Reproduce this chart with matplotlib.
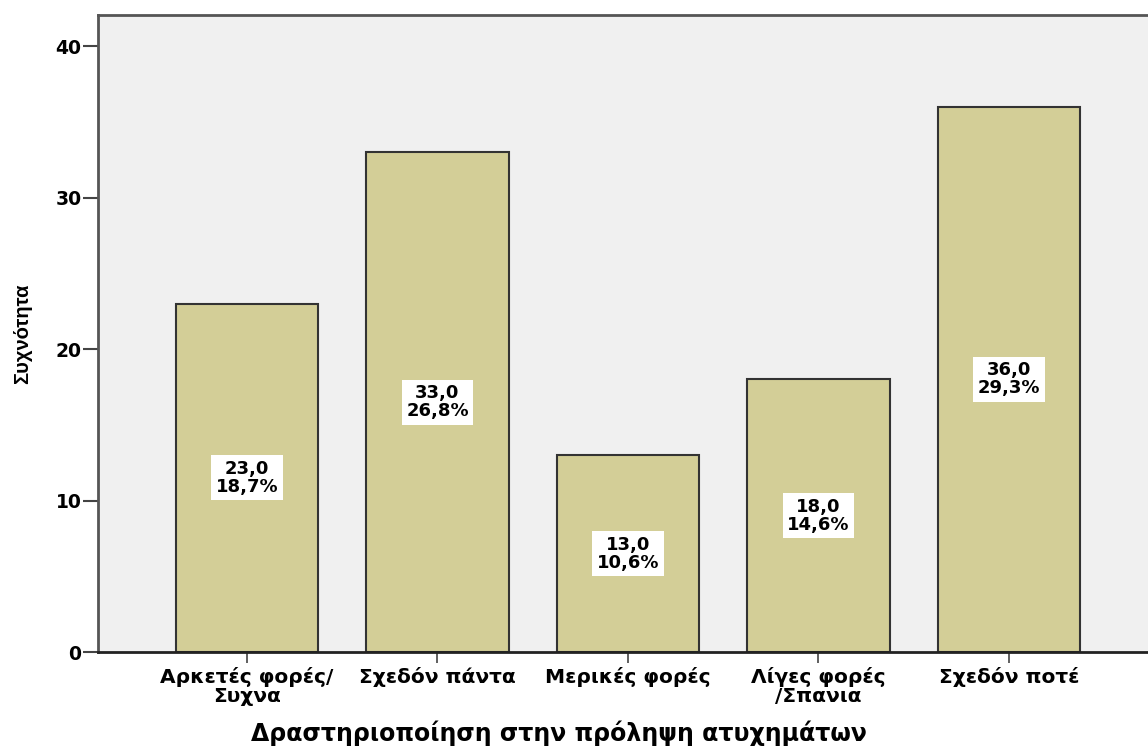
import matplotlib
matplotlib.use('Agg')
import matplotlib.pyplot as plt

plt.rcParams['font.family'] = ['DejaVu Sans']

categories = ['Αρκετές φορές/\nΣυχνα', 'Σχεδόν πάντα', 'Μερικές φορές',
              'Λίγες φορές\n/Σπανια', 'Σχεδόν ποτέ']
counts = [23, 33, 13, 18, 36]
percents = [18.7, 26.8, 10.6, 14.6, 29.3]
yticks = [0, 10, 20, 30, 40]

fig = plt.figure(figsize=(11.48, 7.47), dpi=100)
ax = fig.add_axes([98 / 1148, 1 - 652 / 747, 1 - 98 / 1148, (652 - 15) / 747])
ax.set_facecolor('#f0f0f0')

x = list(range(len(categories)))
ax.bar(x, counts, width=0.75, color='#d3ce97', edgecolor='#333333', linewidth=1.5, zorder=2)

for xi, c, p in zip(x, counts, percents):
    lbl = ('%.1f\n%.1f%%' % (c, p)).replace('.', ',')
    ax.text(xi, c / 2, lbl, ha='center', va='center', fontsize=13, fontweight='bold',
            linespacing=1.0, zorder=3,
            bbox=dict(facecolor='white', edgecolor='none', boxstyle='square,pad=0.25'))

ax.set_xlim(-0.782, 4.73)
ax.set_ylim(0, 42.05)
ax.set_xticks(x)
ax.set_xticklabels(categories, fontsize=14.5, fontweight='bold', linespacing=1.0)
ax.set_yticks(yticks)
ax.set_yticklabels([str(t) for t in yticks], fontsize=13.5, fontweight='bold')
ax.tick_params(axis='y', length=11, width=1.5, color='#444444', pad=1)
ax.tick_params(axis='x', length=8, width=1.2, color='#444444', pad=3)

for side in ['left', 'top']:
    ax.spines[side].set_color('#555555')
    ax.spines[side].set_linewidth(2)
ax.spines['bottom'].set_color('#222222')
ax.spines['bottom'].set_linewidth(2)
ax.spines['right'].set_visible(False)

ax.set_ylabel('Συχνότητα', fontsize=14.5, fontweight='bold',
              family=['Liberation Sans', 'DejaVu Sans'])
ax.yaxis.set_label_coords(-66 / 1050, 0.5)
ax.set_xlabel('Δραστηριοποίηση στην πρόληψη ατυχημάτων', fontsize=17, fontweight='bold')
ax.xaxis.set_label_coords((559 - 98) / 1050, -69 / 637)

fig.savefig('out.png', dpi=100)
